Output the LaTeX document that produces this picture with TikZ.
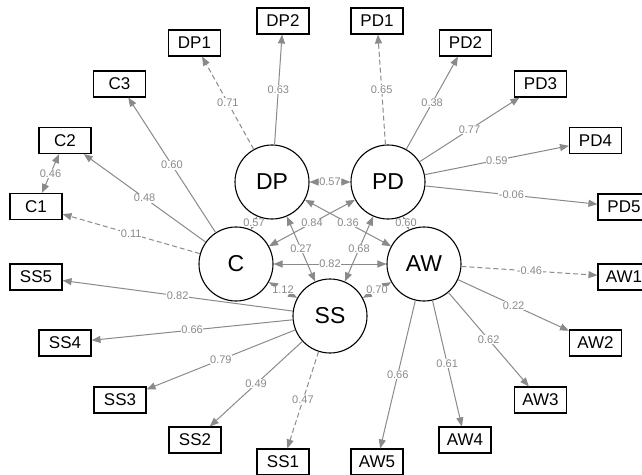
\documentclass[tikz,border=0pt]{standalone}
\usepackage{fontspec}
\setmainfont{Liberation Sans}
\usetikzlibrary{arrows.meta}
\definecolor{egray}{RGB}{138,138,138}
\begin{document}
\begin{tikzpicture}[x=1pt,y=-1pt,
  lat/.style={circle,draw=black,line width=1.1pt,minimum size=74pt,inner sep=0pt,font=\fontsize{23}{23}\selectfont,fill=white},
  man/.style={rectangle,draw=black,line width=1.1pt,minimum width=52pt,minimum height=26pt,inner sep=0pt,font=\fontsize{17}{17}\selectfont,fill=white},
  ed/.style={draw=egray,line width=1pt,-{Triangle[length=9pt,width=7pt]}},
  cov/.style={draw=egray,line width=1pt,{Triangle[length=9pt,width=7pt]}-{Triangle[length=9pt,width=7pt]}},
  dsh/.style={dash pattern=on 5pt off 3pt},
  lab/.style={font=\fontsize{11}{11}\selectfont,text=egray,fill=white,inner sep=0.6pt}
]
\useasboundingbox (0,0) rectangle (642,474);
\fill[white] (0,0) rectangle (642,474);
% latent
\node[lat] (DP) at (272,182) {DP};
\node[lat] (PD) at (388,182) {PD};
\node[lat] (C) at (236,264) {C};
\node[lat] (AW) at (424,264) {AW};
\node[lat] (SS) at (330,316) {SS};
% manifest
\node[man] (DP1) at (194.5,43) {DP1};
\node[man] (DP2) at (283,21) {DP2};
\node[man] (C3) at (119.5,84) {C3};
\node[man] (C2) at (65,140.5) {C2};
\node[man] (C1) at (36,206.5) {C1};
\node[man] (PD1) at (377,21) {PD1};
\node[man] (PD2) at (465.5,43) {PD2};
\node[man] (PD3) at (540.5,84) {PD3};
\node[man] (PD4) at (595.5,140.5) {PD4};
\node[man] (PD5) at (624,207) {PD5};
\node[man] (SS5) at (36,277) {SS5};
\node[man] (SS4) at (65,343) {SS4};
\node[man] (SS3) at (120,400) {SS3};
\node[man] (SS2) at (195,440) {SS2};
\node[man] (SS1) at (283,462) {SS1};
\node[man] (AW1) at (624,277) {AW1};
\node[man] (AW2) at (595.5,343) {AW2};
\node[man] (AW3) at (540.5,400) {AW3};
\node[man] (AW4) at (465,440) {AW4};
\node[man] (AW5) at (377,462) {AW5};
% loadings
\draw[ed,dsh] (DP) -- node[lab]{0.71} (DP1);
\draw[ed] (DP) -- node[lab]{0.63} (DP2);
\draw[ed] (C) -- node[lab]{0.60} (C3);
\draw[ed] (C) -- node[lab]{0.48} (C2);
\draw[ed,dsh] (C) -- node[lab]{0.11} (C1);
\draw[ed,dsh] (PD) -- node[lab]{0.65} (PD1);
\draw[ed] (PD) -- node[lab]{0.38} (PD2);
\draw[ed] (PD) -- node[lab]{0.77} (PD3);
\draw[ed] (PD) -- node[lab]{0.59} (PD4);
\draw[ed] (PD) -- node[lab]{-0.06} (PD5);
\draw[ed] (SS) -- node[lab]{0.82} (SS5);
\draw[ed] (SS) -- node[lab]{0.66} (SS4);
\draw[ed] (SS) -- node[lab]{0.79} (SS3);
\draw[ed] (SS) -- node[lab]{0.49} (SS2);
\draw[ed,dsh] (SS) -- node[lab]{0.47} (SS1);
\draw[ed,dsh] (AW) -- node[lab]{-0.46} (AW1);
\draw[ed] (AW) -- node[lab]{0.22} (AW2);
\draw[ed] (AW) -- node[lab]{0.62} (AW3);
\draw[ed] (AW) -- node[lab]{0.61} (AW4);
\draw[ed] (AW) -- node[lab]{0.66} (AW5);
% residual covariance
\draw[cov] (C1) -- node[lab]{0.46} (C2);
% latent covariances
\draw[cov] (DP) -- node[lab]{0.57} (PD);
\draw[cov] (DP) -- node[lab]{0.57} (C);
\draw[cov] (PD) -- node[lab]{0.60} (AW);
\draw[cov] (C) -- node[lab]{0.84} (PD);
\draw[cov] (DP) -- node[lab]{0.36} (AW);
\draw[cov] (DP) -- node[lab]{0.27} (SS);
\draw[cov] (PD) -- node[lab]{0.68} (SS);
\draw[cov] (C) -- node[lab]{0.82} (AW);
\draw[cov] (C) -- node[lab]{1.12} (SS);
\draw[cov] (SS) -- node[lab]{0.70} (AW);
\end{tikzpicture}
\end{document}
